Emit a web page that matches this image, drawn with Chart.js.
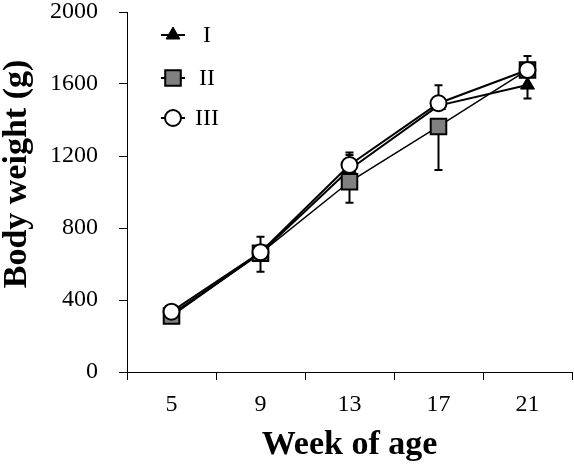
<!DOCTYPE html>
<html>
<head>
<meta charset="utf-8">
<script src="https://cdn.jsdelivr.net/npm/chart.js@4"></script>
<style>
html, body { margin: 0; padding: 0; background: #fff; }
</style>
</head>
<body>
<canvas id="growthChart" width="574" height="466"></canvas>
<script>
const weeks = ["5", "9", "13", "17", "21"];
const groupI = [320, 660, 1125, 1480, 1594];
const groupII = [311, 660, 1057, 1364, 1678];
const groupIII = [335, 665, 1150, 1493, 1678];
// error bar arms that are visible in the figure (g)
const errUpI = [0, 0, 80, 0, 0];
const errDownI = [0, 0, 0, 0, 74];
const errUpII = [0, 0, 0, 0, 78];
const errDownII = [0, 103, 117, 242, 0];
const errUpIII = [0, 87, 70, 100, 0];
const errDownIII = [0, 0, 0, 0, 0];
const groupNames = ["I", "II", "III"];

const serif = "'Liberation Serif', 'Times New Roman', serif";

const errorBars = {
    id: "errorBars",
    beforeDatasetsDraw(chart) {
        const ctx = chart.ctx;
        const yScale = chart.scales.y;
        ctx.save();
        ctx.strokeStyle = "#000";
        ctx.lineWidth = 2;
        chart.data.datasets.forEach((ds, i) => {
            const meta = chart.getDatasetMeta(i);
            meta.data.forEach((pt, j) => {
                const v = ds.data[j];
                [[ds.errUp[j], 1], [ds.errDown[j], -1]].forEach(([e, s]) => {
                    if (!e) return;
                    const yEnd = yScale.getPixelForValue(v + s * e);
                    ctx.beginPath();
                    ctx.moveTo(pt.x, pt.y);
                    ctx.lineTo(pt.x, yEnd);
                    ctx.moveTo(pt.x - 4, yEnd);
                    ctx.lineTo(pt.x + 4, yEnd);
                    ctx.stroke();
                });
            });
        });
        ctx.restore();
    }
};

// legend inside the plot, marker with a short line through it
const innerLegend = {
    id: "innerLegend",
    afterDraw(chart) {
        const ctx = chart.ctx;
        const area = chart.chartArea;
        const rows = [23, 66, 106];
        ctx.save();
        chart.data.datasets.forEach((ds, i) => {
            const mx = area.left + 46;
            const my = area.top + rows[i];
            ctx.strokeStyle = "#000";
            ctx.lineWidth = 2;
            ctx.beginPath();
            ctx.moveTo(mx - 12, my);
            ctx.lineTo(mx + 12, my);
            ctx.stroke();
            ctx.fillStyle = ds.pointBackgroundColor;
            ctx.strokeStyle = "#000";
            ctx.lineWidth = ds.pointBorderWidth;
            Chart.helpers.drawPoint(ctx, {
                pointStyle: ds.pointStyle,
                radius: ds.pointRadius,
                rotation: 0,
                borderWidth: ds.pointBorderWidth
            }, mx, my);
            ctx.fillStyle = "#000";
            ctx.font = "24px " + serif;
            ctx.textAlign = "center";
            ctx.textBaseline = "middle";
            ctx.fillText(ds.label, area.left + 80, my + 1);
        });
        // y axis title, drawn a bit above the axis middle as in the figure
        ctx.translate(17, area.top + 162);
        ctx.rotate(-Math.PI / 2);
        ctx.font = "bold 34px " + serif;
        ctx.textAlign = "center";
        ctx.textBaseline = "middle";
        ctx.fillStyle = "#000";
        ctx.fillText("Body weight (g)", 0, 0);
        ctx.restore();
    }
};

const ctx = document.getElementById("growthChart").getContext("2d");
new Chart(ctx, {
    type: "line",
    data: {
        labels: weeks,
        datasets: [{
            label: groupNames[0],
            data: groupI,
            errUp: errUpI,
            errDown: errDownI,
            borderColor: "#000",
            borderWidth: 2,
            pointStyle: "triangle",
            pointRadius: 8,
            pointBackgroundColor: "#000",
            pointBorderColor: "#000",
            pointBorderWidth: 1,
            order: 3
        }, {
            label: groupNames[1],
            data: groupII,
            errUp: errUpII,
            errDown: errDownII,
            borderColor: "#000",
            borderWidth: 1.5,
            pointStyle: "rect",
            pointRadius: 11,
            pointBackgroundColor: "#808080",
            pointBorderColor: "#000",
            pointBorderWidth: 2,
            order: 2
        }, {
            label: groupNames[2],
            data: groupIII,
            errUp: errUpIII,
            errDown: errDownIII,
            borderColor: "#000",
            borderWidth: 2,
            pointStyle: "circle",
            pointRadius: 8,
            pointBackgroundColor: "#fff",
            pointBorderColor: "#000",
            pointBorderWidth: 2,
            order: 1
        }]
    },
    options: {
        responsive: false,
        animation: false,
        layout: { autoPadding: false, padding: { top: 12, right: 2, left: 0, bottom: 0 } },
        plugins: {
            legend: { display: false },
            tooltip: { enabled: false }
        },
        scales: {
            x: {
                offset: true,
                grid: {
                    offset: true,
                    drawOnChartArea: false,
                    drawTicks: true,
                    tickLength: 8,
                    color: "#000"
                },
                border: { display: true, color: "#000", width: 1 },
                ticks: {
                    color: "#000",
                    padding: 10,
                    font: { family: serif, size: 24 }
                },
                title: {
                    display: true,
                    text: "Week of age",
                    color: "#000",
                    padding: { top: 0, bottom: 0 },
                    font: { family: serif, size: 34, weight: "bold" }
                },
                afterFit(scale) {
                    scale.height = 94;
                    scale.paddingLeft = 0;
                    scale.paddingRight = 0;
                }
            },
            y: {
                min: 0,
                max: 2000,
                grid: {
                    drawOnChartArea: false,
                    drawTicks: true,
                    tickLength: 8,
                    color: "#000"
                },
                border: { display: true, color: "#000", width: 1 },
                ticks: {
                    stepSize: 400,
                    color: "#000",
                    padding: 21,
                    font: { family: serif, size: 24 },
                    callback: (v) => String(v)
                },
                afterFit(scale) {
                    scale.width = 127;
                    scale.paddingTop = 0;
                    scale.paddingBottom = 0;
                }
            }
        }
    },
    plugins: [errorBars, innerLegend]
});
</script>
</body>
</html>
